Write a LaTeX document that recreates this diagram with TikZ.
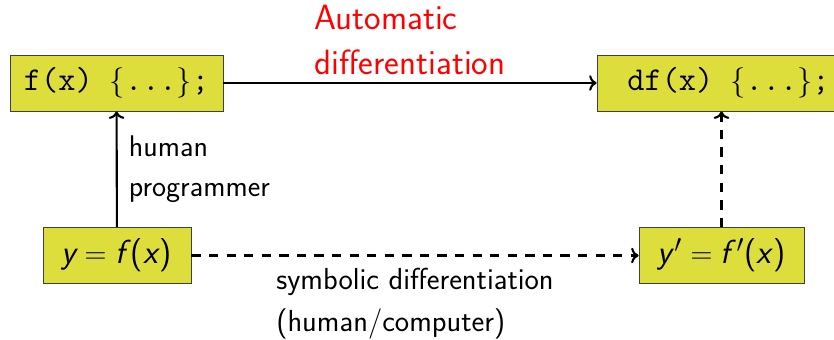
\documentclass[tikz,border=0pt]{standalone}
\usepackage{amsmath}
\usepackage{xcolor}
\usepackage{tikz}
\usetikzlibrary{arrows.meta}
\definecolor{boxfill}{RGB}{221,222,60}
\renewcommand{\familydefault}{\sfdefault}

\begin{document}
\begin{tikzpicture}[x=0.02cm,y=-0.02cm,font=\sffamily]
				\useasboundingbox (0,0) rectangle (834,339);
				\begin{scope}[every node/.style={rectangle,draw=black!75,fill=boxfill,line width=0.5pt,minimum height=1.12cm,font=\fontsize{19}{21}\selectfont}]
					\node[minimum width=4.26cm] (F) at (116.5,83) {\ttfamily f(x) $\{$...$\}$;};
					\node[minimum width=5.26cm] (DF) at (728.5,83) {\ttfamily df(x) $\{$...$\}$;};
					\node[minimum width=2.96cm] (Y) at (117,255.5) {{\itshape y}${}={}${\itshape f\/}({\itshape x\/})};
					\node[minimum width=3.3cm] (DY) at (721.5,255.5) {{\itshape y\/}$'{}={}${\itshape f\/}$'$({\itshape x\/})};
				\end{scope}
				
				\begin{scope}[>=To, line width=1.2pt,
					every node/.style={align=left,font=\fontsize{17.3}{24}\selectfont}]
					\path [->] (F) edge node [above=1pt,red,font=\fontsize{20}{25.5}\selectfont] {Automatic\\differentiation} (DF);
					\path [->] (Y) edge node [right=3pt,font=\fontsize{17}{22.7}\selectfont] {human\\programmer} (F);
					\path [->,dash pattern=on 5.3pt off 4.7pt] (Y) edge node [below=3pt] {symbolic differentiation\\(human/computer)} (DY);
					\path [->,dash pattern=on 5.3pt off 4.7pt] (DY) edge (DY.north |- DF.south);
				\end{scope}
			\end{tikzpicture}
\end{document}
